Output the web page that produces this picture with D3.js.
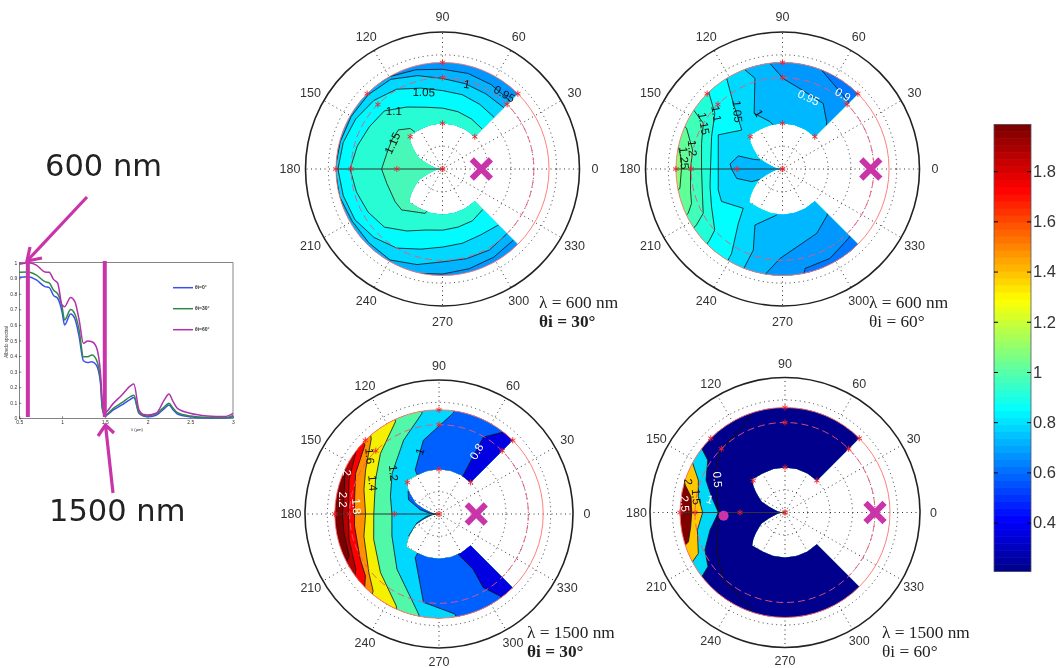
<!DOCTYPE html>
<html>
<head>
  <meta charset="utf-8">
  <title>BRDF polar maps</title>
  <script src="https://d3js.org/d3.v7.min.js"></script>
  <style>
    body { margin: 0; background: #fff; }
    svg { display: block; filter: blur(0.45px); }
    text { font-family: "Liberation Sans", sans-serif; }
  </style>
</head>
<body>
  <script>
    // spectrum (left)
    var wavelength = [0.5, 0.6, 0.7, 0.8, 0.85, 0.9, 0.95, 1.0, 1.03, 1.1, 1.15, 1.2, 1.25, 1.3, 1.35, 1.4, 1.45, 1.47, 1.5, 1.6, 1.7, 1.8, 1.84, 1.9, 1.95, 2, 2.1, 2.2, 2.25, 2.3, 2.35, 2.5, 2.7, 2.9, 3];
    var albedo0 = [.906, .91, .889, .846, .84, .79, .77, .685, .6, .67, .64, .525, .37, .358, .364, .343, .225, .064, .017, .054, .086, .122, .133, .032, .015, .01, .02, .064, .085, .054, .028, .01, .002, .002, .01];
    var albedo30 = [.938, .94, .92, .878, .87, .824, .8, .717, .632, .7, .67, .567, .396, .396, .407, .379, .246, .075, .021, .064, .1, .139, .148, .036, .019, .015, .028, .075, .096, .064, .036, .015, .006, .002, .019];
    var albedo60 = [.99, 1, .985, .94, .938, .893, .867, .728, .717, .777, .75, .632, .482, .497, .492, .46, .289, .118, .036, .096, .15, .208, .22, .054, .024, .021, .032, .122, .156, .107, .064, .032, .015, .011, .032];
    var spectrumLabels = ['θi=0°', 'θi=30°', 'θi=60°'];
    var markedWavelengths = [0.6, 1.5];

    // colorbar
    var cbDomain = [0.205, 1.986];
    var cbTicks = [0.4, 0.6, 0.8, 1, 1.2, 1.4, 1.6, 1.8];

    // polar axes
    var thetaTicks = d3.range(0, 360, 30);
    var rhoTicks = [15, 30, 45, 60, 75];
    var starTheta = [45, 90, 135, 180];
    var starRho = [30, 60, 70];
    var innerTheta = [45, 60, 75, 90, 105, 120, 135, 140, 145, 150, 155, 160, 165, 170, 175, 180, 185, 190, 195, 200, 205, 210, 215, 220, 225, 240, 255, 270, 285, 300, 315];
    var innerRho = [30, 30, 30, 30, 30, 30, 31, 27.5, 23.7, 20, 17.2, 11.5, 7.5, 5, 3, 0, 3, 5, 7.5, 11.5, 17.2, 20, 23.7, 27.5, 31, 30, 30, 30, 30, 30, 30];

    // panel 1, 600 nm 30deg: contours read per azimuth
    var p1Theta = [45, 60, 75, 90, 105, 120, 135, 150, 165, 180, 195, 210, 225, 240, 255, 270, 285, 300, 315];
    var p1Rho095 = [63, 64, 65, 65.5, 67.5, 70, 72, 72, 72, 72, 72, 72, 72, 72, 71, 69, 67.8, 67, 66];
    var p1Rho100 = [57, 57, 58, 59.5, 63.5, 68, 69, 69.2, 69.5, 70.5, 70, 68.5, 68.5, 69, 65, 61, 61, 61.5, 60];
    var p1Rho105 = [48, 49, 50.5, 51.5, 55, 60.5, 63.7, 65.8, 67.5, 68.7, 67.5, 66.5, 63.6, 60, 54.5, 51.3, 50.5, 50, 52];
    var p1Rho110 = [37, 38, 39, 40, 42, 47, 54, 55.5, 58, 60.7, 58.5, 56.5, 54, 47, 41.5, 40.2, 39.5, 39.3, 37.5];
    var p1C115 = [[124, 25], [128.5, 34], [138.4, 38.7], [150, 38.4], [164.3, 38], [180, 40], [194.4, 37.8], [214.6, 37.8], [225, 38], [248.6, 31.3], [253, 25]];
    var p1Labels = [['1.15', 152.8, 37, -65, '#111'], ['1.1', 130, 49.7, 0, '#111'], ['1.05', 103.7, 52, 2, '#111'], ['1', 74, 58, 10, '#111'], ['0.95', 50.5, 64, 30, '#111']];

    // panel 2, 600 nm 60deg
    var p2C125 = [[166, 72], [167.9, 70], [174.9, 66.6], [180, 66.4], [190.7, 68.6], [192, 72]];
    var p2C120 = [[156, 72], [157, 68.5], [168, 60.4], [180, 60.4], [192.9, 62], [200.7, 63.9], [205.2, 68.5], [206, 72]];
    var p2C115 = [[146, 72], [146.8, 68.8], [150, 60], [162.4, 55.8], [180, 53.2], [194.7, 54.5], [209.2, 59.7], [213, 67.4], [214, 72]];
    var p2C110 = [[133, 72], [135, 67.4], [140.5, 57.6], [155.5, 51.2], [180, 47.3], [193.7, 49], [208, 52.8], [222, 59.9], [224.4, 67.4], [225, 72]];
    var p2C105 = [[121, 72], [121.6, 70], [126.8, 54], [136.3, 37], [152, 47.8], [180, 42.2], [198, 44.4], [208, 45.4], [225, 36.5], [230.9, 46], [238.9, 64.8], [239, 67.8], [239.5, 72]];
    var p2C100a = [[111, 72], [110.7, 69.6], [106.9, 62.3], [117, 41], [104.8, 32.2], [100, 28]];
    var p2C100b = [[262.8, 30.5], [243.8, 41], [250.2, 56.7], [248.9, 68.4], [248.5, 72]];
    var p2Lens = [[158, 16], [161.6, 20], [163.5, 30.2], [174.5, 34.6], [180, 33.5], [191.6, 30.7], [202.4, 21.8], [205, 16]];
    var p2C095a = [[98, 72], [89.4, 59.3], [77.7, 54], [58.2, 50.7], [47, 42.5], [44, 40]];
    var p2C095b = [[317, 40], [314.3, 42.2], [298, 47.9], [268.4, 58.8], [261.3, 69], [260, 72]];
    var p2C090a = [[71.5, 72], [59.3, 65.2], [44.3, 61.7], [43, 61]];
    var p2C090b = [[317, 62], [313.5, 62.9], [298, 66.5], [282.8, 67], [281, 72]];
    var p2Labels = [['0.95', 70, 50, 25, '#fff'], ['0.9', 51, 63, 30, '#fff'], ['1', 113, 39.7, 60, '#111'], ['1.05', 128, 48, 85, '#111'], ['1.1', 140, 56.6, 80, '#111'], ['1.15', 150, 59.6, 80, '#111'], ['1.2', 167, 60.7, 85, '#111'], ['1.25', 173.7, 65, 85, '#111']];

    // panel 3, 1500 nm 30deg
    var p3Ca = [[153, 72], [154, 70], [169.5, 64.9], [180, 64.9], [191, 65], [205, 66.7], [209, 72]];
    var p3Cb = [[142, 72], [142.5, 70], [159.3, 64.6], [180, 60.9], [195.8, 62.8], [213.5, 67], [218, 72]];
    var p3Cc = [[136, 72], [137, 68], [154, 62.3], [170.4, 57.5], [188, 57.3], [209.8, 61], [220, 64.5], [226, 72]];
    var p3Cd = [[130, 72], [132, 68], [149, 57.5], [162, 53], [180, 49.3], [196.5, 52.6], [219.9, 61.4], [229.4, 68], [231, 72]];
    var p3Ce = [[114, 72], [115.4, 68.4], [134, 56.6], [151.8, 48.4], [180, 43.8], [201, 47], [225, 55.6], [245, 68], [247, 72]];
    var p3Cf = [[99, 72], [99.7, 68.4], [115.6, 55], [139, 41.7], [160, 34.7], [180, 31.6], [205, 34.9], [232.7, 46.6], [258.4, 68.5], [260, 72]];
    var p3Cga = [[81, 72], [82, 68.4], [102, 50.6], [118.4, 33.6], [122, 20]];
    var p3Cgb = [[241, 20], [241.4, 33.4], [260, 60.2], [279, 68], [280, 72]];
    var p3Sliver = [[143, 26], [155, 22.6], [167, 13], [176, 6], [180, 2], [190.7, 8.4], [202, 16], [216, 25.3]];
    var p3Cha = [[58, 28], [58, 30.9], [60, 59.6], [52.6, 68.8], [50, 72]];
    var p3Chb = [[295.4, 28], [295.4, 30], [301.7, 43.6], [301, 57.5], [306.5, 68.3], [307, 72]];
    var p3Labels = [['0.8', 59, 49, -60, '#fff'], ['1', 107, 44, -70, '#111'], ['1.2', 138, 41, 85, '#111'], ['1.4', 155, 49, 85, '#111'], ['1.6', 140, 60.6, 85, '#111'], ['1.8', 174.7, 55.5, 85, '#fff'], ['2.2', 171.5, 65, 90, '#fff'], ['2', 155.9, 68, 90, '#fff']];

    // panel 4, 1500 nm 60deg
    var p4Ca = [[162, 72], [170.5, 63.5], [180, 62.2], [188.6, 63.6], [196.9, 67.3], [199, 72]];
    var p4Cb = [[151, 72], [152, 69.7], [159.5, 61.7], [169.7, 58.7], [180, 54.9], [191.4, 59.6], [205.3, 63.9], [208, 69.8], [209, 72]];
    var p4Cc = [[142, 72], [142.9, 68.9], [145.9, 62.2], [157.7, 56.9], [168, 50], [180, 44.4], [193.3, 51.4], [205, 58.9], [215, 62.7], [217.3, 68.9], [218, 72]];
    var p4C05 = [[110, 70], [111.7, 66.2], [136, 60], [150.9, 53.4], [180, 44.4], [211, 53.1], [227.6, 61], [249.6, 67], [251, 70]];
    var p4Labels = [['0.5', 154, 50, 85, '#fff'], ['1', 170, 50.8, 20, '#fff'], ['1.5', 170, 60, 85, '#111'], ['2', 162.4, 67.6, 85, '#111'], ['2.5', 175, 67, 85, '#fff']];
    var p4Dot = [183, 41];

    function zipRho(theta, rho) {
      return theta.map(function (t, i) { return [t, rho[i]]; });
    }

    var panels = [
      { cx: 442.5, cy: 169, R: 137, labelR: 152.5, base: '#0098ff', cross: [0, 25.5],
        caption: ['λ = 600 nm', 'θi = 30°'], capX: 539, capY: 308, boldTheta: true, labels: p1Labels,
        regions: [
          { fill: '#00b4ff', line: zipRho(p1Theta, p1Rho095) },
          { fill: '#00d8ff', line: zipRho(p1Theta, p1Rho100) },
          { fill: '#00fcff', line: zipRho(p1Theta, p1Rho105) },
          { fill: '#28fcd4', line: zipRho(p1Theta, p1Rho110) },
          { fill: '#48f8b8', line: p1C115, via: [[180, 0]] }
        ] },
      { cx: 782.5, cy: 169, R: 137, labelR: 152.5, base: '#88ff78', cross: [0, 58],
        caption: ['λ = 600 nm', 'θi = 60°'], capX: 869, capY: 308, labels: p2Labels,
        regions: [
          { fill: '#60ff98', line: p2C125 },
          { fill: '#40ffb8', line: p2C120 },
          { fill: '#20ffd8', line: p2C115 },
          { fill: '#00ffff', line: p2C110 },
          { fill: '#00d8ff', line: p2C105 },
          { fill: '#00b8ff', line: p2C100a, via: [[90, 15], [30, 15], [30, 82], [50, 82], [70, 82], [90, 82], [111, 82]] },
          { fill: '#00b8ff', line: p2C100b, via: [[248, 82], [270, 82], [300, 82], [330, 82], [330, 15], [270, 15]] },
          { fill: '#00b8ff', line: p2Lens, via: [[180, 0]] },
          { fill: '#0098ff', line: p2C095a },
          { fill: '#0098ff', line: p2C095b },
          { fill: '#0078ff', line: p2C090a },
          { fill: '#0078ff', line: p2C090b }
        ] },
      { cx: 439, cy: 514, R: 134, labelR: 148, base: '#7d0000', cross: [0, 25],
        caption: ['λ = 1500 nm', 'θi = 30°'], capX: 527, capY: 638, boldTheta: true, labels: p3Labels,
        regions: [
          { fill: '#b40000', line: p3Ca },
          { fill: '#ff0000', line: p3Cb },
          { fill: '#ff9000', line: p3Cc },
          { fill: '#f4f000', line: p3Cd },
          { fill: '#50f8a8', line: p3Ce },
          { fill: '#00d8ff', line: p3Cf },
          { fill: '#0060ff', line: p3Cga, via: [[90, 15], [40, 15], [40, 82], [60, 82], [80, 82]] },
          { fill: '#0060ff', line: p3Cgb, via: [[280, 82], [300, 82], [320, 82], [320, 15], [300, 15], [270, 15]] },
          { fill: '#0060ff', line: p3Sliver, via: [[216, 10], [180, 0], [143, 10]] },
          { fill: '#0000e0', line: p3Cha, via: [[40, 82], [40, 20], [50, 20]] },
          { fill: '#0000e0', line: p3Chb, via: [[320, 82], [320, 20], [300, 20]] }
        ] },
      { cx: 785, cy: 512.5, R: 135, labelR: 148.5, base: '#800000', cross: [0, 60], dot: p4Dot,
        caption: ['λ = 1500 nm', 'θi = 60°'], capX: 882, capY: 638, labels: p4Labels,
        regions: [
          { fill: '#ffc800', line: p4Ca },
          { fill: '#00d8f8', line: p4Cb },
          { fill: '#00008c', line: p4Cc }
        ],
        lines: [p4C05] }
    ];

    var pink = '#c935a9';
    var svg = d3.select('body').append('svg').attr('width', 1062).attr('height', 668);

    var angle = d3.scaleLinear().domain([0, 360]).range([Math.PI / 2, Math.PI / 2 - 2 * Math.PI]);

    panels.forEach(drawPanel);
    drawColorbar();
    drawSpectrum();

    function arc(a, b) {
      return d3.range(a, b, 15).concat([b]).map(function (t) { return [t, 82]; });
    }

    function drawPanel(p, idx) {
      var r = d3.scaleLinear().domain([0, 90]).range([0, p.R]);
      var line = d3.lineRadial()
        .angle(function (d) { return angle(d[0]); })
        .radius(function (d) { return r(d[1]); });
      var g = svg.append('g').attr('transform', 'translate(' + p.cx + ',' + p.cy + ')');

      // dotted grid goes below the map
      g.selectAll('.ring').data(rhoTicks).enter().append('circle')
        .attr('r', function (d) { return r(d); })
        .attr('fill', 'none').attr('stroke', '#333').attr('stroke-width', 1).attr('stroke-dasharray', '1 3.5');
      g.selectAll('.spoke').data(thetaTicks).enter().append('line')
        .attr('x2', function (d) { return d3.pointRadial(angle(d), p.R)[0]; })
        .attr('y2', function (d) { return d3.pointRadial(angle(d), p.R)[1]; })
        .attr('stroke', '#333').attr('stroke-width', 1).attr('stroke-dasharray', '1 3.5');
      g.append('circle').attr('r', p.R).attr('fill', 'none').attr('stroke', '#222').attr('stroke-width', 1.6);

      // C shaped map
      var outer = d3.range(45, 316, 5).map(function (t) { return [t, 70]; });
      var inner = zipRho(innerTheta, innerRho).reverse();
      var shape = line(outer.concat(inner)) + 'Z';
      svg.append('clipPath').attr('id', 'clip' + idx).append('path').attr('d', shape);
      g.append('path').attr('d', shape).attr('fill', p.base);

      var map = g.append('g').attr('clip-path', 'url(#clip' + idx + ')');
      p.regions.forEach(function (reg) {
        var first = reg.line[0][0], last = reg.line[reg.line.length - 1][0];
        var via = reg.via || arc(last, first < last ? first + 360 : first);
        map.append('path').attr('d', line(reg.line.concat(via)) + 'Z').attr('fill', reg.fill);
      });
      p.regions.forEach(function (reg) {
        map.append('path').attr('d', line(reg.line)).attr('fill', 'none')
          .attr('stroke', '#111').attr('stroke-width', 0.8);
      });
      (p.lines || []).forEach(function (l) {
        map.append('path').attr('d', line(l)).attr('fill', 'none')
          .attr('stroke', '#111').attr('stroke-width', 1);
      });

      // axis at 180 and the red reference rings
      g.append('line').attr('x2', -r(70)).attr('stroke', '#333').attr('stroke-width', 1);
      g.append('circle').attr('r', r(70)).attr('fill', 'none').attr('stroke', '#ff7070').attr('stroke-width', 0.9);
      g.append('circle').attr('r', r(60)).attr('fill', 'none').attr('stroke', '#ee5577').attr('stroke-width', 0.9).attr('stroke-dasharray', '7 4');

      var stars = [[0, 0]];
      starTheta.forEach(function (t) { starRho.forEach(function (q) { stars.push([t, q]); }); });
      g.selectAll('.star').data(stars).enter().append('path')
        .attr('d', d3.symbol().type(d3.symbolAsterisk).size(26))
        .attr('transform', function (d) { return 'translate(' + d3.pointRadial(angle(d[0]), r(d[1])) + ')'; })
        .attr('fill', 'none').attr('stroke', '#f0202a').attr('stroke-width', 0.9);
      g.append('circle').attr('r', 2.4).attr('fill', 'none').attr('stroke', '#d04040').attr('stroke-width', 0.7);

      // contour labels
      g.selectAll('.clabel').data(p.labels).enter().append('text')
        .text(function (d) { return d[0]; })
        .attr('transform', function (d) { return 'translate(' + d3.pointRadial(angle(d[1]), r(d[2])) + ') rotate(' + d[3] + ')'; })
        .attr('text-anchor', 'middle').attr('dy', '0.35em')
        .attr('font-size', 11.5).attr('fill', function (d) { return d[4]; });

      // azimuth labels
      g.selectAll('.tlabel').data(thetaTicks).enter().append('text')
        .text(function (d) { return d; })
        .attr('x', function (d) { return d3.pointRadial(angle(d), p.labelR)[0]; })
        .attr('y', function (d) { return d3.pointRadial(angle(d), p.labelR)[1]; })
        .attr('text-anchor', 'middle').attr('dy', '0.35em')
        .attr('font-size', 12.5).attr('fill', '#333');

      // sun position and marks
      g.append('path').attr('d', d3.symbol().type(d3.symbolTimes).size(240))
        .attr('transform', 'translate(' + d3.pointRadial(angle(p.cross[0]), r(p.cross[1])) + ')')
        .attr('fill', 'none').attr('stroke', pink).attr('stroke-width', 6);
      if (p.dot) {
        g.append('circle').attr('r', 5)
          .attr('transform', 'translate(' + d3.pointRadial(angle(p.dot[0]), r(p.dot[1])) + ')')
          .attr('fill', pink);
      }

      // caption
      p.caption.forEach(function (c, i) {
        svg.append('text').text(c)
          .attr('x', p.capX).attr('y', p.capY + i * 19)
          .style('font-family', '"Liberation Serif", serif')
          .style('font-size', '17.3px').attr('fill', '#222')
          .style('font-weight', i === 1 && p.boldTheta ? 'bold' : 'normal');
      });
    }

    function drawColorbar() {
      var y = d3.scaleLinear().domain(cbDomain).range([571.5, 124.5]);
      var jet = d3.scaleLinear()
        .domain([0, 0.11, 0.36, 0.61, 0.86, 1])
        .range(['#00008f', '#0000ff', '#00ffff', '#ffff00', '#ff0000', '#800000']);
      var steps = d3.range(64);
      var band = d3.scaleBand().domain(steps).range([571.5, 124.5]);
      svg.selectAll('.cb').data(steps).enter().append('rect')
        .attr('x', 994).attr('width', 37)
        .attr('y', function (d) { return band(d) - 0.3; })
        .attr('height', band.bandwidth() + 0.6)
        .attr('fill', function (d) { return jet(d / 63); });
      svg.append('rect').attr('x', 994).attr('y', 124.5).attr('width', 37).attr('height', 447)
        .attr('fill', 'none').attr('stroke', '#556').attr('stroke-width', 0.8);

      var axis = svg.append('g').attr('transform', 'translate(1031,0)')
        .call(d3.axisRight(y).tickValues(cbTicks).tickSize(-4).tickPadding(2).tickFormat(function (d) { return d; }));
      axis.select('.domain').remove();
      axis.selectAll('text').style('font-family', '"Liberation Sans", sans-serif').style('font-size', '16.5px').attr('fill', '#333');
      axis.selectAll('.tick').append('line').attr('x1', -37).attr('x2', -33).attr('stroke', '#000');
    }

    function drawSpectrum() {
      var x = d3.scaleLinear().domain([0.5, 3]).range([19.3, 233]);
      var y = d3.scaleLinear().domain([0, 1]).range([418.3, 262.7]);
      var g = svg.append('g');
      g.append('rect').attr('x', 19.3).attr('y', 262.7).attr('width', 213.7).attr('height', 155.6)
        .attr('fill', '#fff').attr('stroke', '#333').attr('stroke-width', 0.6);

      var xAxis = g.append('g').attr('transform', 'translate(0,418.3)')
        .call(d3.axisBottom(x).tickValues([0.5, 1, 1.5, 2, 2.5, 3]).tickSize(-2).tickPadding(2).tickFormat(function (d) { return d; }));
      var yAxis = g.append('g').attr('transform', 'translate(19.3,0)')
        .call(d3.axisLeft(y).tickValues(d3.range(0, 1.01, 0.1)).tickSize(-2).tickPadding(2).tickFormat(d3.format('.1~f')));
      [xAxis, yAxis].forEach(function (a) {
        a.select('.domain').remove();
        a.selectAll('text').style('font-size', '5px').attr('fill', '#333');
        a.selectAll('line').attr('stroke-width', 0.5);
      });
      g.append('text').text('Albedo spectral').attr('transform', 'translate(8,342) rotate(-90)')
        .attr('text-anchor', 'middle').attr('font-size', 4.6).attr('fill', '#333');
      g.append('text').text('λ (µm)').attr('x', 137).attr('y', 431)
        .attr('text-anchor', 'middle').attr('font-size', 4.2).attr('fill', '#333');

      var colors = ['#3a4ff0', '#2e8b45', '#b030b0'];
      var curve = d3.line().x(function (d) { return x(d[0]); }).y(function (d) { return y(d[1]); }).curve(d3.curveMonotoneX);
      [albedo0, albedo30, albedo60].forEach(function (s, i) {
        g.append('path').attr('d', curve(zipRho(wavelength, s))).attr('fill', 'none')
          .attr('stroke', colors[i]).attr('stroke-width', 1.5);
        var ly = 287.7 + i * 21;
        g.append('line').attr('x1', 173).attr('x2', 193).attr('y1', ly).attr('y2', ly)
          .attr('stroke', colors[i]).attr('stroke-width', 1.5);
        g.append('text').text(spectrumLabels[i]).attr('x', 195).attr('y', ly + 1.5)
          .attr('font-size', 5).attr('font-weight', 'bold').attr('fill', '#333');
      });

      // magenta annotations
      markedWavelengths.forEach(function (w) {
        g.append('line').attr('x1', x(w)).attr('x2', x(w)).attr('y1', 261).attr('y2', 417)
          .attr('stroke', pink).attr('stroke-width', 4);
      });
      var arrows = [[[87, 197], [27, 261]], [[113, 493], [105.5, 425]]];
      var heads = [[[42, 258], [30, 247]], [[114, 433], [98, 436]]];
      arrows.forEach(function (a, i) {
        g.append('path').attr('d', d3.line()(a)).attr('stroke', pink).attr('stroke-width', 3.2).attr('fill', 'none');
        g.append('path').attr('d', d3.line()([heads[i][0], a[1], heads[i][1]])).attr('stroke', pink).attr('stroke-width', 3.2).attr('fill', 'none');
      });
      [['600 nm', 45, 176], ['1500 nm', 49, 521]].forEach(function (t) {
        svg.append('text').text(t[0]).attr('x', t[1]).attr('y', t[2])
          .style('font-family', '"DejaVu Sans", sans-serif').style('font-size', '30.5px').attr('fill', '#222');
      });
    }
  </script>
</body>
</html>
